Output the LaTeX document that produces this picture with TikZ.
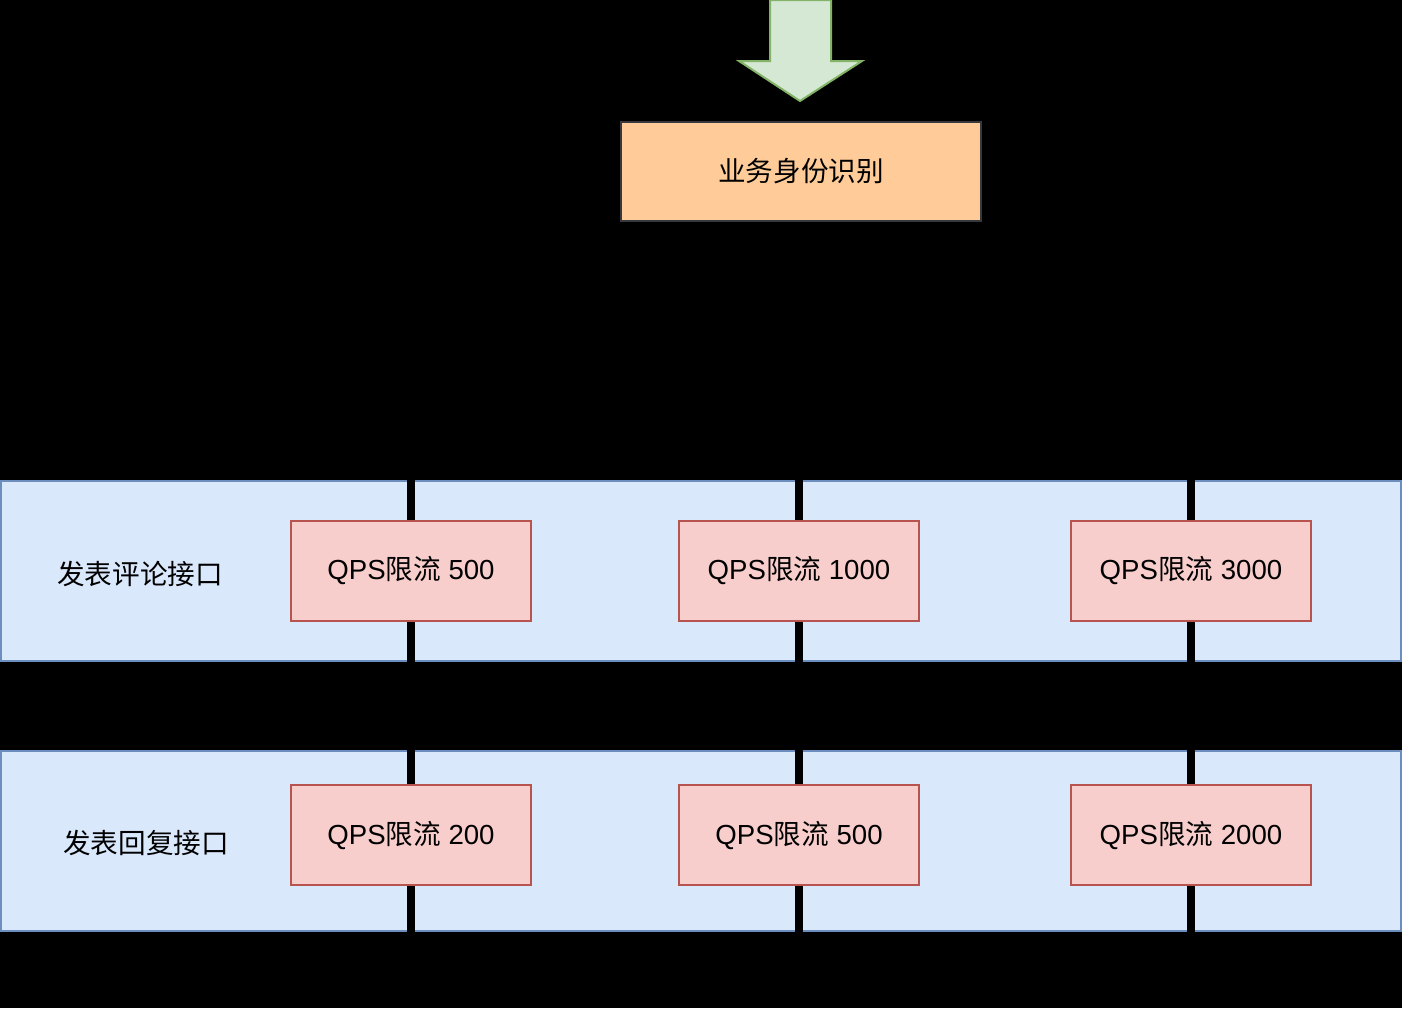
\documentclass[tikz,border=0pt]{standalone}
\usepackage{fontspec}
\setmainfont{Liberation Sans}
\newfontfamily\cjk{Noto Sans CJK SC}
\usetikzlibrary{positioning}

\definecolor{bandfill}{HTML}{DAE8FC}
\definecolor{banddraw}{HTML}{6C8EBF}
\definecolor{limitfill}{HTML}{F8CECC}
\definecolor{limitdraw}{HTML}{B85450}
\definecolor{hubfill}{HTML}{FFCC99}
\definecolor{hubdraw}{HTML}{36393D}
\definecolor{inletfill}{HTML}{D5E8D4}
\definecolor{inletdraw}{HTML}{82B366}

\newcommand\qpslimit[1]{QPS{\cjk 限流} #1}

\pgfdeclarelayer{bands}
\pgfdeclarelayer{wires}
\pgfsetlayers{bands,wires,main}

\tikzset{
  band/.style={draw=banddraw, fill=bandfill, line width=1pt, minimum width=700pt, minimum height=90pt},
  limit/.style={draw=limitdraw, fill=limitfill, line width=1pt, minimum width=120pt, minimum height=50pt},
  hub/.style={draw=hubdraw, fill=hubfill, line width=1pt, minimum width=180pt, minimum height=49.5pt},
  wire/.style={draw=black, line width=4pt}
}

\begin{document}
\begin{tikzpicture}[x=0.5pt, y=-0.5pt, font=\fontsize{13.8}{16}\selectfont]
    \begin{pgfonlayer}{bands}
        \fill[black] (0,0) rectangle (1402,1008);
    \end{pgfonlayer}
    \useasboundingbox (0,0) rectangle (1402,1008);

    % incoming request
    \draw[inletdraw, fill=inletfill, line width=1pt]
        (770,0) -- (831,0) -- (831,61) -- (862,61) -- (800,101) -- (739,61) -- (770,61) -- cycle;

    \node[hub] (hub) at (801,171) {\cjk 业务身份识别};

    % the two interfaces
    \begin{pgfonlayer}{bands}
        \node[band] (comment) at (701,571) {};
        \node[band] (reply) at (701,841) {};
    \end{pgfonlayer}
    \node at (140,574) {\cjk 发表评论接口};
    \node at (146,843) {\cjk 发表回复接口};

    % limits per business
    \node[limit] (c1) at (411,571) {\qpslimit{500}};
    \node[limit] (c2) at (799,571) {\qpslimit{1000}};
    \node[limit] (c3) at (1191,571) {\qpslimit{3000}};
    \node[limit] (r1) at (411,835) {\qpslimit{200}};
    \node[limit] (r2) at (799,835) {\qpslimit{500}};
    \node[limit] (r3) at (1191,835) {\qpslimit{2000}};

    \coordinate (out1) at (411,960);
    \coordinate (out2) at (799,960);
    \coordinate (out3) at (1191,960);

    \begin{pgfonlayer}{wires}
        \foreach \i in {1,2,3} {
            \draw[wire] (hub.south) -- ++(0,180) -| (c\i.north);
            \draw[wire] (c\i.south) -- (r\i.north);
            \draw[wire] (r\i.south) -- (out\i);
        }
    \end{pgfonlayer}
\end{tikzpicture}
\end{document}
